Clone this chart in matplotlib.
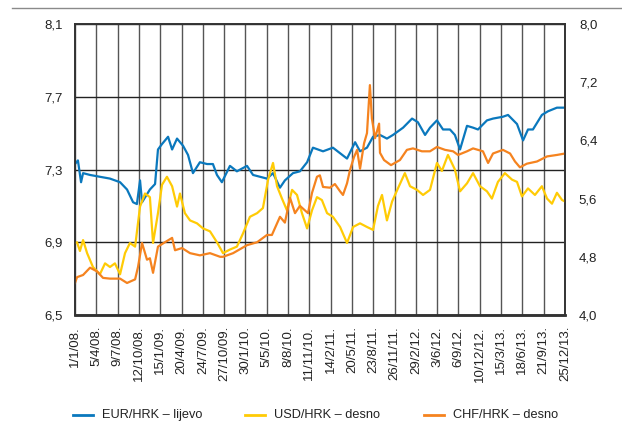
import numpy as np
import pandas as pd
import matplotlib
matplotlib.use("Agg")
import matplotlib.pyplot as plt
from matplotlib.lines import Line2D

plt.rcParams['font.family'] = ['Liberation Sans', 'DejaVu Sans']

# EUR/HRK (left axis)
eur_dates = ["2008-01-01", "2008-01-14", "2008-01-28", "2008-02-06", "2008-03-08", "2008-04-21",
             "2008-06-05", "2008-07-20", "2008-08-20", "2008-09-16", "2008-10-03", "2008-10-17",
             "2008-10-26", "2008-11-30", "2008-12-23", "2009-01-05", "2009-01-23", "2009-02-19",
             "2009-03-09", "2009-03-31", "2009-04-27", "2009-05-19", "2009-06-10", "2009-07-11",
             "2009-08-12", "2009-09-07", "2009-09-25", "2009-10-17", "2009-11-22", "2009-12-23",
             "2010-02-06", "2010-03-05", "2010-05-06", "2010-06-02", "2010-07-03", "2010-07-25",
             "2010-08-30", "2010-09-30", "2010-11-01", "2010-11-27", "2011-01-11", "2011-02-24",
             "2011-04-28", "2011-06-03", "2011-06-25", "2011-07-26", "2011-08-22", "2011-09-22",
             "2011-10-23", "2011-11-19", "2012-01-03", "2012-02-12", "2012-03-09", "2012-04-10",
             "2012-05-02", "2012-06-02", "2012-06-29", "2012-07-30", "2012-08-21", "2012-09-13",
             "2012-10-14", "2012-11-10", "2012-12-02", "2013-01-11", "2013-02-07", "2013-03-23",
             "2013-04-15", "2013-05-25", "2013-06-21", "2013-07-13", "2013-08-04", "2013-09-13",
             "2013-10-10", "2013-11-19", "2013-12-25"]
eur_vals = [7.33, 7.35, 7.23, 7.28, 7.27, 7.26,
            7.25, 7.23, 7.19, 7.12, 7.11, 7.24,
            7.12, 7.19, 7.22, 7.41, 7.44, 7.48,
            7.41, 7.47, 7.43, 7.38, 7.28, 7.34,
            7.33, 7.33, 7.27, 7.23, 7.32, 7.29,
            7.32, 7.27, 7.25, 7.28, 7.20, 7.24,
            7.28, 7.29, 7.34, 7.42, 7.40, 7.42,
            7.36, 7.45, 7.40, 7.42, 7.48, 7.49,
            7.47, 7.49, 7.53, 7.58, 7.56, 7.49,
            7.53, 7.57, 7.52, 7.52, 7.49, 7.41,
            7.54, 7.53, 7.52, 7.57, 7.58, 7.59,
            7.60, 7.55, 7.46, 7.52, 7.52, 7.60,
            7.62, 7.64, 7.64]

# USD/HRK (right axis)
usd_dates = ["2008-01-01", "2008-01-10", "2008-01-23", "2008-02-06", "2008-02-24", "2008-03-21",
             "2008-04-21", "2008-05-14", "2008-06-05", "2008-06-27", "2008-07-20", "2008-08-11",
             "2008-09-02", "2008-09-25", "2008-10-17", "2008-11-08", "2008-11-30", "2008-12-14",
             "2009-01-05", "2009-01-23", "2009-02-14", "2009-03-09", "2009-03-31", "2009-04-13",
             "2009-05-05", "2009-05-28", "2009-06-28", "2009-07-25", "2009-08-25", "2009-09-25",
             "2009-10-22", "2009-11-22", "2009-12-23", "2010-01-19", "2010-02-19", "2010-03-23",
             "2010-04-18", "2010-05-11", "2010-06-02", "2010-06-20", "2010-07-12", "2010-08-03",
             "2010-08-26", "2010-09-17", "2010-10-09", "2010-11-01", "2010-11-23", "2010-12-15",
             "2011-01-06", "2011-01-29", "2011-02-24", "2011-03-28", "2011-04-28", "2011-05-25",
             "2011-06-25", "2011-07-26", "2011-08-22", "2011-09-13", "2011-10-01", "2011-10-23",
             "2011-11-15", "2011-12-11", "2012-01-11", "2012-02-03", "2012-03-05", "2012-04-01",
             "2012-05-02", "2012-06-02", "2012-06-24", "2012-07-21", "2012-08-21", "2012-09-13",
             "2012-10-14", "2012-11-10", "2012-12-11", "2013-01-11", "2013-02-02", "2013-03-01",
             "2013-04-01", "2013-05-03", "2013-05-25", "2013-06-16", "2013-07-13", "2013-08-13",
             "2013-09-13", "2013-10-06", "2013-10-28", "2013-11-19", "2013-12-12", "2013-12-25"]
usd_vals = [4.99, 5.00, 4.88, 5.03, 4.85, 4.66,
            4.56, 4.71, 4.66, 4.71, 4.56, 4.85,
            4.99, 4.94, 5.49, 5.67, 5.62, 4.99,
            5.40, 5.79, 5.90, 5.77, 5.49, 5.67,
            5.40, 5.30, 5.26, 5.19, 5.15, 5.00,
            4.85, 4.90, 4.94, 5.12, 5.35, 5.40,
            5.47, 5.86, 6.09, 5.77, 5.60, 5.44,
            5.72, 5.65, 5.40, 5.19, 5.44, 5.62,
            5.58, 5.40, 5.35, 5.21, 4.99, 5.21,
            5.26, 5.21, 5.17, 5.50, 5.65, 5.30,
            5.56, 5.74, 5.95, 5.77, 5.72, 5.65,
            5.72, 6.09, 5.98, 6.20, 6.00, 5.70,
            5.81, 5.95, 5.77, 5.70, 5.60, 5.83,
            5.95, 5.86, 5.83, 5.63, 5.74, 5.65,
            5.77, 5.60, 5.53, 5.68, 5.58, 5.56]

# CHF/HRK (right axis)
chf_dates = ["2008-01-01", "2008-01-10", "2008-02-06", "2008-03-08", "2008-04-08", "2008-05-05",
             "2008-06-05", "2008-07-20", "2008-08-20", "2008-09-25", "2008-10-08", "2008-10-26",
             "2008-11-17", "2008-11-30", "2008-12-14", "2009-01-05", "2009-02-05", "2009-03-09",
             "2009-03-22", "2009-04-22", "2009-05-28", "2009-07-11", "2009-08-25", "2009-10-09",
             "2009-10-22", "2009-12-06", "2010-02-06", "2010-03-23", "2010-05-06", "2010-05-28",
             "2010-07-03", "2010-07-25", "2010-08-17", "2010-09-08", "2010-09-30", "2010-11-05",
             "2010-11-23", "2010-12-15", "2010-12-28", "2011-01-11", "2011-02-11", "2011-03-05",
             "2011-03-28", "2011-04-10", "2011-04-28", "2011-05-11", "2011-05-29", "2011-06-12",
             "2011-06-25", "2011-07-13", "2011-07-26", "2011-08-08", "2011-08-17", "2011-08-31",
             "2011-09-18", "2011-09-22", "2011-10-10", "2011-11-10", "2011-12-20", "2012-01-20",
             "2012-02-16", "2012-03-27", "2012-05-02", "2012-06-02", "2012-07-08", "2012-08-13",
             "2012-09-04", "2012-10-14", "2012-11-10", "2012-12-24", "2013-01-16", "2013-02-07",
             "2013-03-23", "2013-04-24", "2013-05-16", "2013-06-07", "2013-07-08", "2013-08-22",
             "2013-10-06", "2013-11-19", "2013-12-25"]
chf_vals = [4.44, 4.52, 4.55, 4.65, 4.60, 4.51,
            4.50, 4.50, 4.44, 4.49, 4.66, 4.99,
            4.76, 4.78, 4.58, 4.94, 5.00, 5.06,
            4.89, 4.92, 4.85, 4.82, 4.85, 4.80,
            4.80, 4.85, 4.96, 5.00, 5.10, 5.10,
            5.35, 5.27, 5.61, 5.40, 5.50, 5.40,
            5.68, 5.90, 5.92, 5.76, 5.75, 5.80,
            5.70, 5.65, 5.81, 5.99, 6.17, 6.27,
            6.01, 6.36, 6.50, 7.16, 6.70, 6.43,
            6.63, 6.23, 6.13, 6.06, 6.13, 6.27,
            6.29, 6.25, 6.25, 6.31, 6.27, 6.25,
            6.20, 6.25, 6.29, 6.25, 6.09, 6.22,
            6.27, 6.22, 6.11, 6.03, 6.08, 6.11,
            6.18, 6.20, 6.22]

tick_labels = ["1/1/08.", "5/4/08.", "9/7/08.", "12/10/08.", "15/1/09.", "20/4/09.",
               "24/7/09.", "27/10/09.", "30/1/10.", "5/5/10.", "8/8/10.", "11/11/10.",
               "14/2/11.", "20/5/11.", "23/8/11.", "26/11/11.", "29/2/12.", "3/6/12.",
               "6/9/12.", "10/12/12.", "15/3/13.", "18/6/13.", "21/9/13.", "25/12/13."]
left_ticks = [6.5, 6.9, 7.3, 7.7, 8.1]
right_ticks = [4.0, 4.8, 5.6, 6.4, 7.2, 8.0]

blue = "#0a78bd"
yellow = "#ffcb05"
orange = "#f5831f"
txt = "#222222"

tick_dates = pd.to_datetime([t.rstrip(".") for t in tick_labels], format="%d/%m/%y")

fig = plt.figure(figsize=(6.22, 4.32), dpi=100)
ax = fig.add_axes([75 / 622, 117 / 432, 490 / 622, 291 / 432])
ax2 = ax.twinx()

ax.plot(pd.to_datetime(eur_dates), eur_vals, color=blue, lw=1.6)
ax2.plot(pd.to_datetime(usd_dates), usd_vals, color=yellow, lw=1.6)
ax2.plot(pd.to_datetime(chf_dates), chf_vals, color=orange, lw=1.6)

ax.set_xlim(tick_dates[0], tick_dates[-1])
ax.set_ylim(6.5, 8.1)
ax2.set_ylim(4.0, 8.0)

ax.set_xticks(tick_dates, tick_labels)
ax.set_yticks(left_ticks, [f"{v:.1f}".replace(".", ",") for v in left_ticks])
ax2.set_yticks(right_ticks, [f"{v:.1f}".replace(".", ",") for v in right_ticks])

ax.tick_params(axis="x", length=0, pad=8, colors=txt, labelsize=9.5, labelrotation=90)
ax.tick_params(axis="y", length=0, pad=9, colors=txt, labelsize=9.5)
ax2.tick_params(axis="y", length=0, pad=10, colors=txt, labelsize=9.5)

ax.grid(True, axis="x", color="#555555", lw=1)
ax.grid(True, axis="y", color="#222222", lw=1)
ax.set_axisbelow(True)

for a in (ax, ax2):
    for s in a.spines.values():
        s.set_color("#333333")
        s.set_linewidth(1.2)
    a.spines["bottom"].set_linewidth(1.8)

# thin rule across the top of the figure
fig.add_artist(Line2D([12 / 622, 1.0], [424 / 432, 424 / 432], color="#8a8a8a", lw=1))

# legend drawn by hand below the plot
leg_colors = [blue, yellow, orange]
leg_names = ["EUR/HRK – lijevo", "USD/HRK – desno", "CHF/HRK – desno"]
leg_x = [73, 245, 424]
leg_y = 17 / 432
for c, name, x0 in zip(leg_colors, leg_names, leg_x):
    fig.add_artist(Line2D([x0 / 622, (x0 + 20) / 622], [leg_y, leg_y], color=c, lw=2))
    fig.text((x0 + 29) / 622, leg_y, name, fontsize=9.2, color=txt, va="center", ha="left")

fig.savefig("out.png", dpi=100)
